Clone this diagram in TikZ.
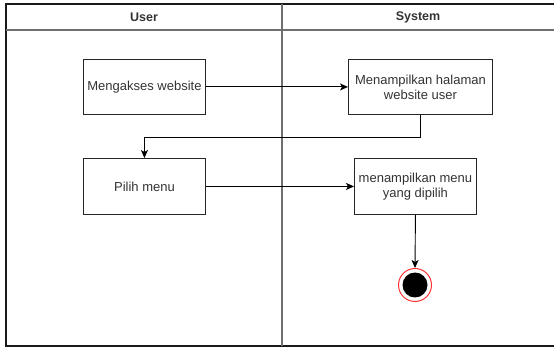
\documentclass[tikz,border=0pt]{standalone}
\usepackage{fontspec}
\setmainfont{Liberation Sans}
\usetikzlibrary{arrows.meta,positioning}
\definecolor{txt}{HTML}{333333}
\definecolor{endred}{HTML}{FF3333}
\definecolor{lanegray}{HTML}{6E6E6E}
\tikzset{
  actbox/.style={draw=black!85, line width=0.9pt, fill=white, inner sep=0pt,
    font=\fontsize{13}{15}\selectfont, text=txt, align=center, anchor=north west},
  flow/.style={draw=black, line width=0.9pt, -{Stealth[length=8pt,width=7pt,inset=2pt]}},
  lane/.style={draw=black!90, line width=1.1pt},
  inner/.style={draw=lanegray, line width=1.3pt},
  head/.style={font=\bfseries\fontsize{12.5}{14}\selectfont, text=txt}
}
\begin{document}
\begin{tikzpicture}[x=1pt,y=-1pt]
\useasboundingbox (0,0) rectangle (554,347);
% frame (right edge lies outside the picture)
\draw[lane] (6,4) rectangle (560,346);
\draw[inner] (6,30) -- (556,30);
\draw[inner] (282,4) -- (282,346);
\node[head] (hu) at (144,17) {User};
\node[head] (hs) at (418,17) {System};
% boxes
\node[actbox, minimum width=122pt, minimum height=55pt] (b1) at (83,59) {Mengakses website};
\node[actbox, minimum width=144pt, minimum height=55pt] (b2) at (348,59) {Menampilkan halaman\\website user};
\node[actbox, minimum width=122pt, minimum height=56pt] (b3) at (83,158) {Pilih menu};
\node[actbox, minimum width=122pt, minimum height=56pt] (b4) at (354,158) {menampilkan menu\\yang dipilih};
% end node
\node[circle, draw=endred, line width=1pt, fill=white, minimum size=33pt, inner sep=0pt] (end) at (415,285) {};
\node[circle, fill=black, minimum size=25pt, inner sep=0pt] (endin) at (end.center) {};
% connectors
\draw[flow] (b1.east) -- (b2.west);
\coordinate (c1) at (b2.south |- 0,137);
\coordinate (c2) at (b3.north |- 0,137);
\draw[flow] (b2.south) -- (c1) -- (c2) -- (b3.north);
\draw[flow] (b3.east) -- (b4.west);
\draw[flow] (b4.south) -- (end.north);
\end{tikzpicture}
\end{document}
